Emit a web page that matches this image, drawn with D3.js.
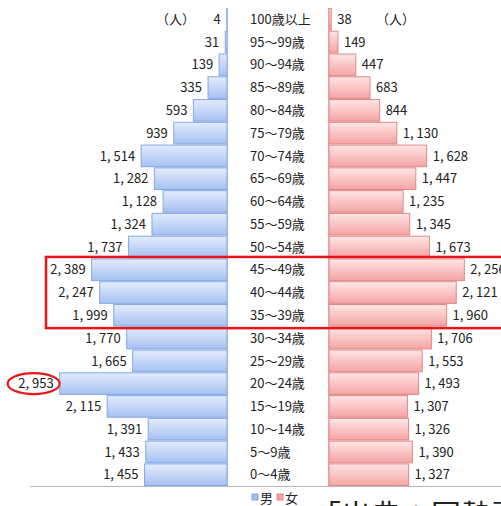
<!DOCTYPE html>
<html><head><meta charset="utf-8">
<script src="https://cdn.jsdelivr.net/npm/d3@7"></script>
<style>
html,body{margin:0;padding:0;background:#fff;overflow:hidden;}
text{font-family:"Noto Sans CJK JP","Noto Sans",sans-serif;fill:#222;}
</style></head>
<body>
<svg id="c" width="501" height="506"></svg>
<script>
const ageGroups = ["100歳以上","95～99歳","90～94歳","85～89歳","80～84歳","75～79歳","70～74歳","65～69歳","60～64歳","55～59歳","50～54歳","45～49歳","40～44歳","35～39歳","30～34歳","25～29歳","20～24歳","15～19歳","10～14歳","5～9歳","0～4歳"];
const maleValues = [4,31,139,335,593,939,1514,1282,1128,1324,1737,2389,2247,1999,1770,1665,2953,2115,1391,1433,1455];
const femaleValues = [38,149,447,683,844,1130,1628,1447,1235,1345,1673,2256,2121,1960,1706,1553,1493,1307,1326,1390,1327];
const legendLabels = ["男","女"];
const unitLabel = "（人）";
const sourceText = "「出典：国勢調査」";
const highlightGroups = ["45～49歳","35～39歳"];
const circledValue = 2953;

const svg = d3.select("#c");
const defs = svg.append("defs");
function grad(id, c1, c2){
  const g = defs.append("linearGradient").attr("id",id).attr("x1",0).attr("y1",0).attr("x2",0).attr("y2",1);
  g.append("stop").attr("offset","0%").attr("stop-color",c1);
  g.append("stop").attr("offset","100%").attr("stop-color",c2);
}
grad("gm","#e3ecfc","#a6c1f1");
grad("gf","#ffe6e6","#f5a3a3");

const y = d3.scaleBand().domain(ageGroups).range([8,486]).paddingInner(0.05).paddingOuter(0.02);
const xm = d3.scaleLinear().domain([0,3000]).range([227,57]);
const xf = d3.scaleLinear().domain([0,3000]).range([329,509]);
const fmt = v => d3.format(",")(v).replace(",", ", ");

// baseline line
svg.append("line").attr("x1",30).attr("x2",501).attr("y1",486.5).attr("y2",486.5)
  .attr("stroke","#b8b8b8").attr("stroke-width",1);

// male bars
svg.selectAll(".bm").data(ageGroups).join("rect")
  .attr("x",(d,i)=>xm(maleValues[i])).attr("y",d=>y(d))
  .attr("width",(d,i)=>xm(0)-xm(maleValues[i])).attr("height",y.bandwidth())
  .attr("fill","url(#gm)").attr("stroke","#86a8e6").attr("stroke-width",1);
svg.selectAll(".bf").data(ageGroups).join("rect")
  .attr("x",xf(0)).attr("y",d=>y(d))
  .attr("width",(d,i)=>xf(femaleValues[i])-xf(0)).attr("height",y.bandwidth())
  .attr("fill","url(#gf)").attr("stroke","#e08888").attr("stroke-width",1);

// axis lines
svg.append("line").attr("x1",xm(0)+0.5).attr("x2",xm(0)+0.5).attr("y1",8).attr("y2",486)
  .attr("stroke","#9fb8e6").attr("stroke-width",1);
svg.append("line").attr("x1",xf(0)-0.5).attr("x2",xf(0)-0.5).attr("y1",8).attr("y2",486)
  .attr("stroke","#e6a0a0").attr("stroke-width",1);

const cy = d => y(d)+y.bandwidth()/2;
// category labels
svg.selectAll(".cat").data(ageGroups).join("text")
  .attr("x",250).attr("y",cy).attr("dy","0.36em").attr("font-size",13).text(d=>d);
// male value labels
svg.selectAll(".vm").data(ageGroups).join("text")
  .attr("x",(d,i)=>xm(maleValues[i])-6).attr("y",cy).attr("dy","0.36em")
  .attr("text-anchor","end").attr("font-size",13).text((d,i)=>fmt(maleValues[i]));
svg.selectAll(".vf").data(ageGroups).join("text")
  .attr("x",(d,i)=>xf(femaleValues[i])+6).attr("y",cy).attr("dy","0.36em")
  .attr("font-size",13).text((d,i)=>fmt(femaleValues[i]));

// unit labels
svg.append("text").attr("x",156).attr("y",cy(ageGroups[0])).attr("dy","0.36em").attr("font-size",13).text(unitLabel);
svg.append("text").attr("x",376).attr("y",cy(ageGroups[0])).attr("dy","0.36em").attr("font-size",13).text(unitLabel);

// highlight rectangle
const hTop = y(highlightGroups[0]) - 2;
const hBot = y(highlightGroups[1]) + y.bandwidth() + 2;
svg.append("rect").attr("x",46).attr("y",hTop).attr("width",470).attr("height",hBot-hTop)
  .attr("fill","none").attr("stroke","#e8141c").attr("stroke-width",2.5);

// circle around value
const ci = maleValues.indexOf(circledValue);
svg.append("ellipse").attr("cx",xm(circledValue)-26).attr("cy",cy(ageGroups[ci]))
  .attr("rx",26).attr("ry",10.5).attr("fill","none").attr("stroke","#e8141c").attr("stroke-width",2.2);

// legend
const lg = svg.append("g");
const lcol = ["#a6c1f1","#f5a3a3"], lst = ["#6f95dc","#d97070"];
legendLabels.forEach((t,i)=>{
  const x0 = 252 + i*25;
  lg.append("rect").attr("x",x0).attr("y",494).attr("width",6).attr("height",6)
    .attr("fill",lcol[i]).attr("stroke",lst[i]).attr("stroke-width",0.8);
  lg.append("text").attr("x",x0+8).attr("y",503).attr("font-size",13).text(t);
});

// source text (cut off at bottom, as in the reference)
svg.append("text").attr("x",311).attr("y",526).attr("font-size",30).attr("fill","#111").text(sourceText);
</script>
</body></html>
